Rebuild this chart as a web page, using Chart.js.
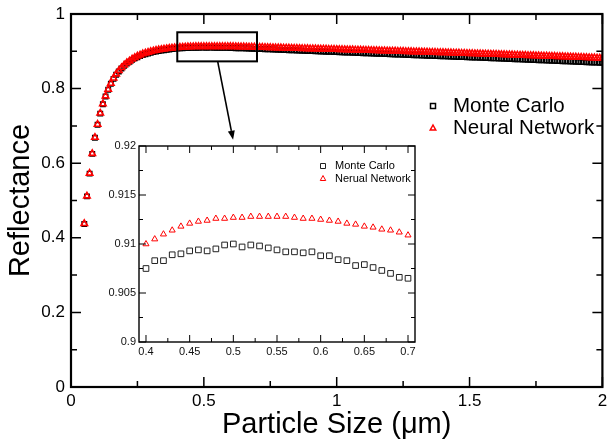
<!DOCTYPE html>
<html>
<head>
<meta charset="utf-8">
<script src="https://cdn.jsdelivr.net/npm/chart.js@4.4.1/dist/chart.umd.min.js"></script>
<style>
  body { margin: 0; background: #fff; }
  #wrap { position: relative; width: 608px; height: 444px; }
  #main { position: absolute; left: 0; top: 0; }
  #inset { position: absolute; left: 100px; top: 140px; }
</style>
</head>
<body>
<div id="wrap">
  <canvas id="main" width="608" height="444"></canvas>
  <canvas id="inset" width="320" height="220"></canvas>
</div>
<script>
// particle size grid (um): 0.05 .. 2.00 every 0.01
const sizeStart = 0.05;
const sizeStep = 0.01;

// Monte Carlo reflectance
const mcEarly = [ // 0.05 - 0.39
  0.437, 0.511, 0.572, 0.625, 0.668, 0.703, 0.733, 0.758, 0.779, 0.797,
  0.813, 0.826, 0.837, 0.846, 0.854, 0.861, 0.867, 0.872, 0.877, 0.881,
  0.884, 0.887, 0.890, 0.892, 0.894, 0.896, 0.898, 0.8995, 0.901, 0.902,
  0.903, 0.904, 0.905, 0.906, 0.907
];
const mcInset = [ // 0.40 - 0.70
  0.9075, 0.9083, 0.9083, 0.9089, 0.9090, 0.9093, 0.9094, 0.9093, 0.9095, 0.9099,
  0.9100, 0.9097, 0.9099, 0.9098, 0.9096, 0.9094, 0.9092, 0.9092, 0.9091, 0.9092,
  0.9088, 0.9088, 0.9084, 0.9083, 0.9078, 0.9079, 0.9076, 0.9073, 0.9070, 0.9066,
  0.9065
];
const mcLate = [ // 0.71 - 2.00
  0.9062, 0.9059, 0.9057, 0.9053, 0.9051, 0.9047, 0.9045, 0.9041, 0.9039, 0.9036,
  0.9033, 0.9030, 0.9028, 0.9024, 0.9022, 0.9018, 0.9016, 0.9012, 0.9010, 0.9007,
  0.9004, 0.9001, 0.8998, 0.8996, 0.8992, 0.8990, 0.8986, 0.8984, 0.8980, 0.8978,
  0.8975, 0.8972, 0.8970, 0.8966, 0.8964, 0.8961, 0.8958, 0.8956, 0.8952, 0.8950,
  0.8947, 0.8944, 0.8942, 0.8938, 0.8936, 0.8933, 0.8930, 0.8928, 0.8924, 0.8922,
  0.8919, 0.8916, 0.8914, 0.8910, 0.8908, 0.8905, 0.8902, 0.8900, 0.8896, 0.8894,
  0.8891, 0.8888, 0.8886, 0.8882, 0.8880, 0.8877, 0.8874, 0.8872, 0.8868, 0.8866,
  0.8863, 0.8860, 0.8858, 0.8854, 0.8852, 0.8849, 0.8846, 0.8844, 0.8840, 0.8838,
  0.8835, 0.8832, 0.8830, 0.8826, 0.8824, 0.8821, 0.8818, 0.8816, 0.8812, 0.8810,
  0.8807, 0.8804, 0.8801, 0.8798, 0.8795, 0.8792, 0.8789, 0.8786, 0.8783, 0.8780,
  0.8777, 0.8774, 0.8771, 0.8768, 0.8765, 0.8762, 0.8759, 0.8756, 0.8753, 0.8750,
  0.8747, 0.8744, 0.8741, 0.8738, 0.8735, 0.8732, 0.8729, 0.8726, 0.8723, 0.8720,
  0.8717, 0.8714, 0.8711, 0.8708, 0.8705, 0.8702, 0.8699, 0.8696, 0.8693, 0.8690
];

// Neural network reflectance
const nnEarly = [ // 0.05 - 0.39
  0.438, 0.512, 0.573, 0.626, 0.669, 0.704, 0.734, 0.759, 0.780, 0.798,
  0.814, 0.828, 0.839, 0.848, 0.856, 0.863, 0.869, 0.874, 0.879, 0.883,
  0.887, 0.890, 0.893, 0.895, 0.897, 0.899, 0.901, 0.9025, 0.904, 0.905,
  0.906, 0.907, 0.908, 0.9088, 0.9095
];
const nnInset = [ // 0.40 - 0.70
  0.9100, 0.9105, 0.9110, 0.9114, 0.9118, 0.9121, 0.9123, 0.9124, 0.9126, 0.9126,
  0.9127, 0.9127, 0.9128, 0.9128, 0.9128, 0.9128, 0.9128, 0.9127, 0.9126, 0.9126,
  0.9125, 0.9124, 0.9123, 0.9121, 0.9120, 0.9118, 0.9117, 0.9115, 0.9114, 0.9112,
  0.9109
];
const nnLate = [ // 0.71 - 2.00
  0.9107, 0.9105, 0.9103, 0.9101, 0.9099, 0.9097, 0.9095, 0.9093, 0.9091, 0.9089,
  0.9087, 0.9085, 0.9083, 0.9081, 0.9079, 0.9077, 0.9075, 0.9073, 0.9071, 0.9069,
  0.9067, 0.9065, 0.9063, 0.9061, 0.9059, 0.9057, 0.9055, 0.9053, 0.9051, 0.9049,
  0.9047, 0.9045, 0.9043, 0.9041, 0.9039, 0.9037, 0.9035, 0.9033, 0.9031, 0.9029,
  0.9027, 0.9025, 0.9023, 0.9021, 0.9019, 0.9016, 0.9014, 0.9012, 0.9010, 0.9008,
  0.9006, 0.9004, 0.9002, 0.8999, 0.8997, 0.8995, 0.8993, 0.8991, 0.8988, 0.8986,
  0.8984, 0.8982, 0.8980, 0.8977, 0.8975, 0.8973, 0.8971, 0.8968, 0.8966, 0.8964,
  0.8962, 0.8959, 0.8957, 0.8955, 0.8953, 0.8950, 0.8948, 0.8946, 0.8943, 0.8941,
  0.8939, 0.8936, 0.8934, 0.8932, 0.8929, 0.8927, 0.8925, 0.8922, 0.8920, 0.8918,
  0.8915, 0.8913, 0.8910, 0.8908, 0.8906, 0.8903, 0.8901, 0.8898, 0.8896, 0.8893,
  0.8891, 0.8888, 0.8886, 0.8883, 0.8881, 0.8878, 0.8876, 0.8873, 0.8871, 0.8868,
  0.8866, 0.8863, 0.8861, 0.8858, 0.8856, 0.8853, 0.8850, 0.8848, 0.8845, 0.8843,
  0.8840, 0.8837, 0.8835, 0.8832, 0.8829, 0.8827, 0.8824, 0.8821, 0.8819, 0.8816
];

// tick labels
const mainXTicks = [0, 0.5, 1, 1.5, 2];
const mainYTicks = [0, 0.2, 0.4, 0.6, 0.8, 1];
const insetXTicks = [0.4, 0.45, 0.5, 0.55, 0.6, 0.65, 0.7];
const insetYTicks = [0.9, 0.905, 0.91, 0.915, 0.92];

const seriesNames = ['Monte Carlo', 'Neural Network'];
const insetNames = ['Monte Carlo', 'Nerual Network'];

// zoomed window + arrow (data coords of main plot)
const zoomBox = [0.4, 0.7, 0.873, 0.951];
const arrowFrom = [0.552, 0.873];
const arrowTo = [0.61, 0.663];

const mcMain = [...mcEarly, ...mcInset, ...mcLate];
const nnMain = [...nnEarly, ...nnInset, ...nnLate];
const sizes = mcMain.map((_, i) => Math.round((sizeStart + i * sizeStep) * 100) / 100);
const insetStart = mcEarly.length;
const insetSizes = sizes.slice(insetStart, insetStart + mcInset.length);

const toXY = (xs, ys) => ys.map((v, i) => ({ x: xs[i], y: v }));
const fmt = v => String(+(+v).toFixed(4));

Chart.defaults.font.family = "'Liberation Sans', Arial, sans-serif";
Chart.defaults.color = '#000';

// frame + inward ticks on all four sides
const frameTicks = {
  id: 'frameTicks',
  afterDraw(chart, args, o) {
    const { ctx, chartArea: a, scales: { x, y } } = chart;
    ctx.save();
    ctx.strokeStyle = '#000';
    ctx.lineWidth = o.tickWidth;
    const mark = (scale, major, minor, horiz) => {
      const first = Math.ceil(scale.min / minor - 1e-6);
      const last = Math.floor(scale.max / minor + 1e-6);
      for (let i = first; i <= last; i++) {
        const v = i * minor;
        const isMajor = Math.abs(v / major - Math.round(v / major)) < 1e-6;
        const len = isMajor ? o.majorLen : o.minorLen;
        const p = scale.getPixelForValue(v);
        ctx.beginPath();
        if (horiz) {
          ctx.moveTo(p, a.bottom); ctx.lineTo(p, a.bottom - len);
          ctx.moveTo(p, a.top); ctx.lineTo(p, a.top + len);
        } else {
          ctx.moveTo(a.left, p); ctx.lineTo(a.left + len, p);
          ctx.moveTo(a.right, p); ctx.lineTo(a.right - len, p);
        }
        ctx.stroke();
      }
    };
    mark(x, o.xMajor, o.xMinor, true);
    mark(y, o.yMajor, o.yMinor, false);
    ctx.lineWidth = o.frameWidth;
    ctx.strokeRect(a.left, a.top, a.right - a.left, a.bottom - a.top);
    ctx.restore();
  }
};

// simple legend: marker + text, drawn at a fixed spot
const markLegend = {
  id: 'markLegend',
  afterDraw(chart, args, o) {
    const ctx = chart.ctx;
    ctx.save();
    ctx.font = o.size + "px 'Liberation Sans', Arial, sans-serif";
    ctx.textBaseline = 'middle';
    ctx.fillStyle = '#000';
    o.names.forEach((name, i) => {
      const y = o.y + i * o.gap;
      const ds = chart.data.datasets[i];
      ctx.strokeStyle = ds.borderColor;
      ctx.lineWidth = o.lw;
      const s = o.mark;
      ctx.beginPath();
      if (ds.pointStyle === 'rect') {
        ctx.rect(o.x - s / 2, y - s / 2, s, s);
      } else {
        ctx.moveTo(o.x, y - s * 0.6);
        ctx.lineTo(o.x + s * 0.55, y + s * 0.4);
        ctx.lineTo(o.x - s * 0.55, y + s * 0.4);
        ctx.closePath();
      }
      ctx.stroke();
      ctx.fillText(name, o.tx, y);
    });
    ctx.restore();
  }
};

// zoom box and arrow on the main plot
const zoomMark = {
  id: 'zoomMark',
  afterDraw(chart) {
    const { ctx, scales: { x, y } } = chart;
    ctx.save();
    ctx.strokeStyle = '#000';
    ctx.fillStyle = '#000';
    ctx.lineWidth = 2;
    const l = x.getPixelForValue(zoomBox[0]), r = x.getPixelForValue(zoomBox[1]);
    const b = y.getPixelForValue(zoomBox[2]), t = y.getPixelForValue(zoomBox[3]);
    ctx.strokeRect(l, t, r - l, b - t);
    const x1 = x.getPixelForValue(arrowFrom[0]), y1 = y.getPixelForValue(arrowFrom[1]);
    const x2 = x.getPixelForValue(arrowTo[0]), y2 = y.getPixelForValue(arrowTo[1]);
    const ang = Math.atan2(y2 - y1, x2 - x1);
    const hl = 9, hw = 3.5;
    ctx.lineWidth = 1.6;
    ctx.beginPath();
    ctx.moveTo(x1, y1);
    ctx.lineTo(x2 - Math.cos(ang) * hl, y2 - Math.sin(ang) * hl);
    ctx.stroke();
    ctx.beginPath();
    ctx.moveTo(x2, y2);
    ctx.lineTo(x2 - Math.cos(ang) * hl - Math.sin(ang) * hw, y2 - Math.sin(ang) * hl + Math.cos(ang) * hw);
    ctx.lineTo(x2 - Math.cos(ang) * hl + Math.sin(ang) * hw, y2 - Math.sin(ang) * hl - Math.cos(ang) * hw);
    ctx.closePath();
    ctx.fill();
    ctx.restore();
  }
};

const setTicks = arr => scale => { scale.ticks = arr.map(v => ({ value: v })); };
const fixWidth = w => scale => { scale.width = w; scale.paddingTop = 0; scale.paddingBottom = 0; };
const fixHeight = h => scale => { scale.height = h; scale.paddingLeft = 0; scale.paddingRight = 0; };

new Chart(document.getElementById('main'), {
  type: 'scatter',
  data: {
    datasets: [{
      label: seriesNames[0],
      data: toXY(sizes, mcMain),
      pointStyle: 'rect',
      pointRadius: 3.2,
      borderColor: '#000',
      backgroundColor: 'rgba(0,0,0,0)',
      borderWidth: 1.4,
      order: 2
    }, {
      label: seriesNames[1],
      data: toXY(sizes, nnMain),
      pointStyle: 'triangle',
      pointRadius: 3.7,
      borderColor: '#ff0000',
      backgroundColor: 'rgba(0,0,0,0)',
      borderWidth: 1.6,
      order: 1
    }]
  },
  options: {
    responsive: false,
    animation: false,
    devicePixelRatio: 1,
    layout: { padding: { top: 14, right: 3, left: 0, bottom: 0 } },
    plugins: {
      legend: { display: false },
      tooltip: { enabled: false },
      frameTicks: { tickWidth: 1.5, frameWidth: 2.2, majorLen: 10, minorLen: 6, xMajor: 0.5, xMinor: 0.25, yMajor: 0.2, yMinor: 0.1 },
      markLegend: { names: seriesNames, x: 433, tx: 453, y: 106, gap: 22, size: 20.5, mark: 5, lw: 1.5 }
    },
    scales: {
      x: {
        type: 'linear', min: 0, max: 2,
        grid: { display: false, drawTicks: false },
        border: { display: false },
        afterBuildTicks: setTicks(mainXTicks),
        afterFit: fixHeight(57),
        ticks: { font: { size: 17 }, padding: 4, maxRotation: 0, callback: fmt },
        title: { display: true, text: 'Particle Size (μm)', font: { size: 29 }, padding: { top: 2, bottom: 2 } }
      },
      y: {
        type: 'linear', min: 0, max: 1,
        grid: { display: false, drawTicks: false },
        border: { display: false },
        afterBuildTicks: setTicks(mainYTicks),
        afterFit: fixWidth(71),
        ticks: { font: { size: 17 }, padding: 6, callback: fmt },
        title: { display: true, text: 'Reflectance', font: { size: 29 }, padding: { top: 4, bottom: 4 } }
      }
    }
  },
  plugins: [frameTicks, markLegend, zoomMark]
});

new Chart(document.getElementById('inset'), {
  type: 'scatter',
  data: {
    datasets: [{
      label: insetNames[0],
      data: toXY(insetSizes, mcInset),
      pointStyle: 'rect',
      pointRadius: 4,
      borderColor: '#222',
      backgroundColor: 'rgba(0,0,0,0)',
      borderWidth: 1
    }, {
      label: insetNames[1],
      data: toXY(insetSizes, nnInset),
      pointStyle: 'triangle',
      pointRadius: 3.5,
      borderColor: '#ff0000',
      backgroundColor: 'rgba(0,0,0,0)',
      borderWidth: 1
    }]
  },
  options: {
    responsive: false,
    animation: false,
    devicePixelRatio: 1,
    layout: { padding: { top: 6, right: 3, left: 0, bottom: 0 } },
    plugins: {
      legend: { display: false },
      tooltip: { enabled: false },
      frameTicks: { tickWidth: 1, frameWidth: 1.4, majorLen: 7, minorLen: 4, xMajor: 0.05, xMinor: 0.025, yMajor: 0.005, yMinor: 0.0025 },
      markLegend: { names: insetNames, x: 223, tx: 235, y: 26, gap: 12.5, size: 11, mark: 5, lw: 1 }
    },
    scales: {
      x: {
        type: 'linear', min: 0.392, max: 0.708,
        grid: { display: false, drawTicks: false },
        border: { display: false },
        afterBuildTicks: setTicks(insetXTicks),
        afterFit: fixHeight(18),
        ticks: { font: { size: 11 }, padding: 3, maxRotation: 0, color: '#111', callback: fmt }
      },
      y: {
        type: 'linear', min: 0.9, max: 0.92,
        grid: { display: false, drawTicks: false },
        border: { display: false },
        afterBuildTicks: setTicks(insetYTicks),
        afterFit: fixWidth(39),
        ticks: { font: { size: 11 }, padding: 3, color: '#111', callback: fmt }
      }
    }
  },
  plugins: [frameTicks, markLegend]
});
</script>
</body>
</html>
